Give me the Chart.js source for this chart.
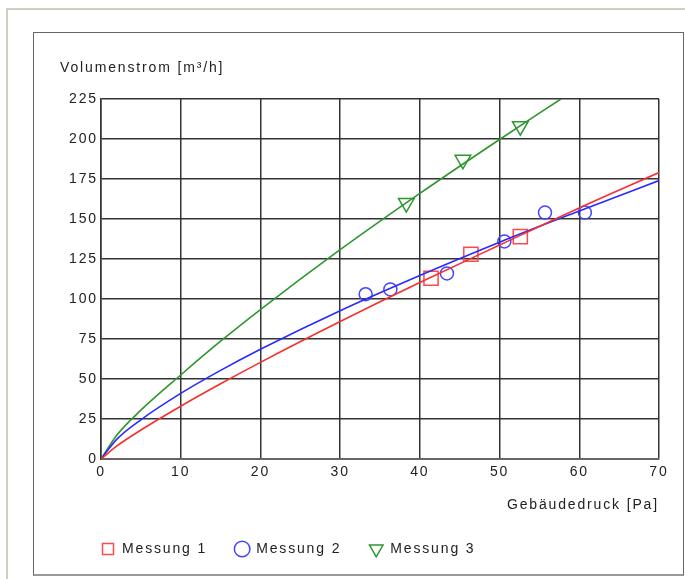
<!DOCTYPE html>
<html>
<head>
<meta charset="utf-8">
<script src="https://cdn.jsdelivr.net/npm/chart.js@4"></script>
<style>
  body { margin: 0; background: #fff; overflow: hidden; }
  #outer { position: absolute; left: 6px; top: 8px; width: 700px; height: 620px; border: 2px solid #cdd0bf; }
  #frame { position: absolute; left: 33px; top: 32px; width: 649px; height: 541px; border: 1px solid #666; border-bottom: 2px solid #999; background: #fff; }
  canvas { display: block; }
</style>
</head>
<body>
<div id="outer"></div>
<div id="frame"><canvas id="flowChart" width="649" height="541"></canvas></div>
<script>
// measured points
const pressure1 = [41.4, 46.4, 52.6];
const flow1 = [113, 128, 139];
const pressure2 = [33.2, 36.3, 43.4, 50.6, 55.7, 60.7];
const flow2 = [103, 106, 116, 136, 154, 154];
const pressure3 = [38.3, 45.4, 52.6];
const flow3 = [160, 187, 208];

// fitted curves
const curveX = [0, 2, 5, 10, 15, 20, 30, 40, 50, 60, 70];
const curve1 = [0, 8.2, 18.1, 33, 47, 60.4, 85.9, 110.3, 133.7, 156.9, 179];
const curve2 = [0, 12.4, 24.5, 41, 55.4, 68.6, 92.7, 114.7, 135.5, 155, 174];
const curve3X = [0, 2, 5, 10, 15, 20, 30, 40, 50, 57.7];
const curve3 = [0, 15, 30.5, 52.5, 73.6, 93.4, 130.8, 166, 199.7, 225];

const labels = ["Messung 1", "Messung 2", "Messung 3"];
const xTitle = "Gebäudedruck [Pa]";
const yTitleText = "Volumenstrom [m³/h]";

const toPoints = (xs, ys) => xs.map((x, i) => ({ x: x, y: ys[i] }));

Chart.defaults.font.family = "'Liberation Sans', Arial, sans-serif";
Chart.defaults.font.size = 14;
Chart.defaults.color = "#222";

const legendGap = 28;

// the original text is drawn a bit wider than plain Arial
const wideText = {
  id: "wideText",
  beforeUpdate(chart) {
    chart.ctx.letterSpacing = "1.85px";
  },
  beforeDraw(chart) {
    chart.ctx.letterSpacing = "1.85px";
  },
  // legend starts flush with the plot's left edge
  afterLayout(chart) {
    chart.legend.left = chart.chartArea.left - legendGap;
  },
};

// y axis title sits horizontally above the plot
const yTitle = {
  id: "yTitle",
  afterDraw(chart) {
    const { ctx, chartArea } = chart;
    ctx.save();
    ctx.font = "14px 'Liberation Sans', Arial, sans-serif";
    ctx.fillStyle = "#222";
    ctx.textBaseline = "middle";
    ctx.fillText(yTitleText, chartArea.left - 41, chartArea.top - 31);
    ctx.restore();
  },
};

const curve = (xs, ys, color) => ({
  data: toPoints(xs, ys),
  showLine: true,
  borderColor: color,
  borderWidth: 1.6,
  pointRadius: 0,
  cubicInterpolationMode: "monotone",
  fill: false,
});

const marks = (label, xs, ys, color, style, radius, rotation) => ({
  label: label,
  data: toPoints(xs, ys),
  showLine: false,
  pointStyle: style,
  pointRadius: radius,
  pointRotation: rotation,
  pointBorderColor: color,
  pointBackgroundColor: "rgba(0,0,0,0)",
  pointBorderWidth: 1.5,
  borderColor: color,
  backgroundColor: "rgba(0,0,0,0)",
});

const ctx = document.getElementById("flowChart").getContext("2d");

let flowChart = new Chart(ctx, {
  type: "scatter",
  data: {
    datasets: [
      curve(curveX, curve1, "#f72f2f"),
      curve(curveX, curve2, "#2a2aff"),
      curve(curve3X, curve3, "#2e962e"),
      marks(labels[0], pressure1, flow1, "#ff4a4a", "rect", 10, 0),
      marks(labels[1], pressure2, flow2, "#4444ff", "circle", 6.5, 0),
      marks(labels[2], pressure3, flow3, "#2e962e", "triangle", 9, 180),
    ],
  },
  options: {
    responsive: false,
    animation: false,
    layout: {
      padding: { left: 0, right: 24, top: 66, bottom: 8 },
    },
    plugins: {
      tooltip: { enabled: false },
      legend: {
        position: "bottom",
        align: "start",
        fullSize: false,
        labels: {
          usePointStyle: true,
          boxWidth: 14,
          boxHeight: 11,
          padding: legendGap,
          color: "#222",
          filter: (item, data) => data.datasets[item.datasetIndex].showLine === false,
        },
      },
    },
    scales: {
      x: {
        type: "linear",
        min: 0,
        max: 70,
        ticks: { stepSize: 10, padding: 5, color: "#222" },
        grid: { color: "#333", lineWidth: 1.5, drawTicks: false },
        border: { color: "#666", width: 2 },
        title: {
          display: true,
          text: xTitle,
          align: "end",
          color: "#222",
          padding: { top: 0, bottom: 0 },
        },
        afterFit: (scale) => {
          scale.height = 55;
        },
      },
      y: {
        min: 0,
        max: 225,
        ticks: { stepSize: 25, padding: 3, color: "#222" },
        grid: { color: "#333", lineWidth: 1.5, drawTicks: false },
        border: { color: "#333", width: 1.5 },
        afterFit: (scale) => {
          scale.width = 67;
        },
      },
    },
  },
  plugins: [wideText, yTitle],
});
</script>
</body>
</html>
